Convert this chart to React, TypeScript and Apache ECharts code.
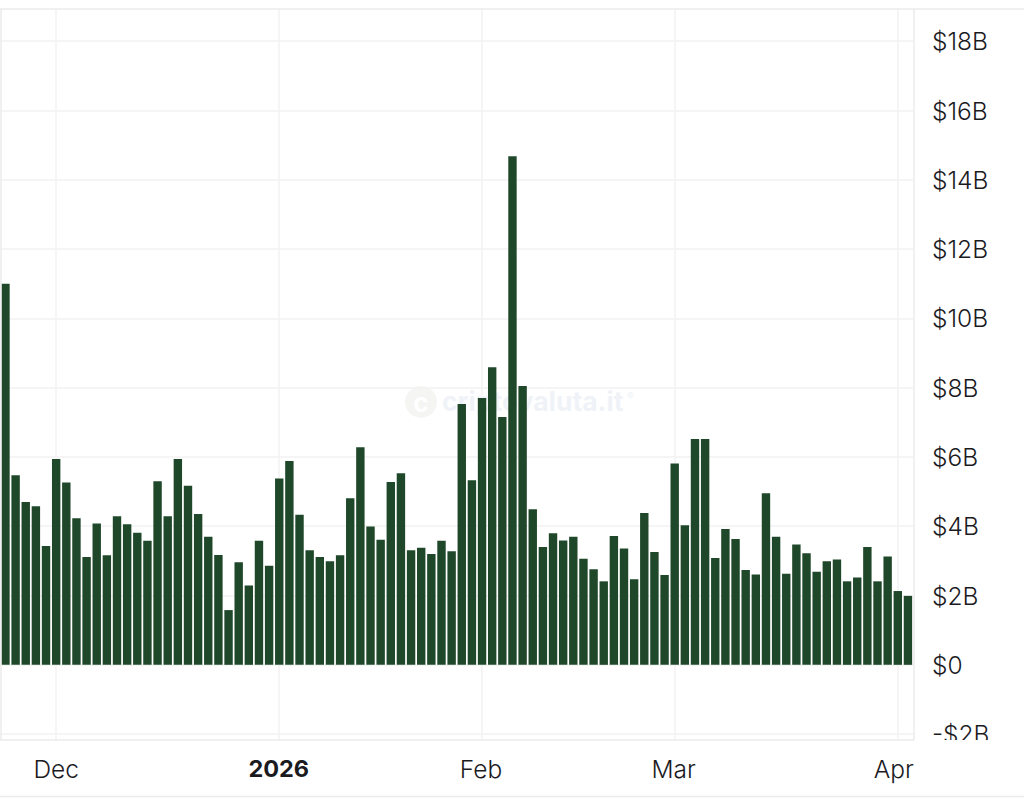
import React, { useEffect, useRef } from "react";
import * as echarts from "echarts";

// trading days only, so the category axis has no weekend gaps
const days = [
  "Nov 21", "Nov 24", "Nov 25", "Nov 26", "Nov 28",
  "Dec 1", "Dec 2", "Dec 3", "Dec 4", "Dec 5", "Dec 8", "Dec 9", "Dec 10", "Dec 11", "Dec 12",
  "Dec 15", "Dec 16", "Dec 17", "Dec 18", "Dec 19", "Dec 22", "Dec 23", "Dec 24", "Dec 26",
  "Dec 29", "Dec 30", "Dec 31",
  "Jan 2", "Jan 5", "Jan 6", "Jan 7", "Jan 8", "Jan 9", "Jan 12", "Jan 13", "Jan 14", "Jan 15",
  "Jan 16", "Jan 20", "Jan 21", "Jan 22", "Jan 23", "Jan 26", "Jan 27", "Jan 28", "Jan 29", "Jan 30",
  "Feb 2", "Feb 3", "Feb 4", "Feb 5", "Feb 6", "Feb 9", "Feb 10", "Feb 11", "Feb 12", "Feb 13",
  "Feb 17", "Feb 18", "Feb 19", "Feb 20", "Feb 23", "Feb 24", "Feb 25", "Feb 26", "Feb 27",
  "Mar 2", "Mar 3", "Mar 4", "Mar 5", "Mar 6", "Mar 9", "Mar 10", "Mar 11", "Mar 12", "Mar 13",
  "Mar 16", "Mar 17", "Mar 18", "Mar 19", "Mar 20", "Mar 23", "Mar 24", "Mar 25", "Mar 26", "Mar 27",
  "Mar 30", "Mar 31",
  "Apr 1", "Apr 2",
];

// volume in $ billions
const volumes = [
  11.0, 5.47, 4.7, 4.58, 3.43,
  5.94, 5.26, 4.23, 3.11, 4.08, 3.16, 4.29, 4.06, 3.81, 3.58,
  5.3, 4.29, 5.94, 5.17, 4.35, 3.7, 3.17, 1.58, 2.96,
  2.29, 3.58, 2.86,
  5.38, 5.88, 4.33, 3.31, 3.11, 2.99, 3.16, 4.81, 6.28, 3.99,
  3.61, 5.28, 5.53, 3.31, 3.38, 3.2, 3.58, 3.28, 7.53, 5.33,
  7.7, 8.59, 7.15, 14.68, 8.05, 4.49, 3.4, 3.8, 3.59, 3.7,
  3.06, 2.76, 2.41, 3.72, 3.36, 2.47, 4.38, 3.26, 2.59,
  5.81, 4.03, 6.52, 6.52, 3.08, 3.92, 3.63, 2.74, 2.61, 4.95,
  3.7, 2.63, 3.47, 3.22, 2.69, 2.99, 3.04, 2.41, 2.52, 3.4,
  2.41, 3.13,
  2.13, 1.99,
];

const monthTicks: Record<string, string> = {
  "Dec 1": "{m|Dec}",
  "Jan 2": "{y|2026}",
  "Feb 2": "{n|Feb}",
  "Mar 2": "{n|Mar}",
  "Apr 1": "{last|Apr}",
};

const priceTicks = [-2, 0, 2, 4, 6, 8, 10, 12, 14, 16, 18];

const FONT = "Inter";
const TEXT = "#1b1b1f";
const GRID_LINE = "#f2f2f3";
const BORDER = "#ebebec";

const App = () => {
  const chartRef = useRef<HTMLDivElement>(null);

  useEffect(() => {
    if (!chartRef.current) return;
    document.body.style.margin = "0";

    const myChart = echarts.init(chartRef.current, undefined, { renderer: "svg" });
    myChart.setOption({
      animation: false,
      backgroundColor: "#ffffff",
      grid: { left: 0.4, right: 111, top: 9, bottom: 62, show: false },
      xAxis: {
        type: "category",
        data: days,
        axisLine: { show: false },
        axisTick: { show: false },
        splitLine: {
          show: true,
          alignWithLabel: true,
          interval: (i: number) => days[i] in monthTicks,
          lineStyle: { color: GRID_LINE, width: 1.5 },
        },
        axisLabel: {
          interval: (i: number) => days[i] in monthTicks,
          formatter: (v: string) => monthTicks[v] || "",
          margin: 16,
          rich: {
            m: { fontFamily: FONT, fontSize: 24.5, fontWeight: 300, color: TEXT },
            n: { fontFamily: FONT, fontSize: 24.5, fontWeight: 300, color: TEXT, padding: [0, 2, 0, 0] },
            y: { fontFamily: FONT, fontSize: 23.5, fontWeight: 700, color: TEXT, padding: [0, 1, 0, 0] },
            last: { fontFamily: FONT, fontSize: 24.5, fontWeight: 300, color: TEXT, padding: [0, 8, 0, 0] },
          },
        },
      },
      yAxis: {
        type: "value",
        position: "right",
        min: -2.17,
        max: 18.93,
        axisLine: { show: false },
        axisTick: { show: false, customValues: priceTicks },
        splitLine: { show: true, lineStyle: { color: GRID_LINE, width: 1.5 } },
        axisLabel: {
          customValues: priceTicks,
          margin: 19,
          fontFamily: FONT,
          fontSize: 24.5,
          fontWeight: 300,
          color: TEXT,
          formatter: (v: number) => (v < 0 ? `-$${-v}B` : v === 0 ? "$0" : `$${v}B`),
        },
      },
      series: [
        {
          type: "bar",
          data: volumes,
          barWidth: 8.4,
          itemStyle: { color: "#1f482a" },
        },
      ],
      graphic: [
        // watermark, sits under the bars
        { type: "circle", z: 0, shape: { cx: 421, cy: 402, r: 16 }, style: { fill: "#f5f6f3" } },
        {
          type: "text",
          z: 0,
          x: 421,
          y: 402,
          style: { text: "c", fontFamily: FONT, fontSize: 26, fontWeight: 700, fill: "#ffffff", align: "center", verticalAlign: "middle" },
        },
        {
          type: "text",
          z: 0,
          x: 442,
          y: 401,
          style: { text: "criptovaluta.it", fontFamily: FONT, fontSize: 26.5, fontWeight: 700, fill: "#eff3f7", verticalAlign: "middle" },
        },
        {
          type: "text",
          z: 0,
          x: 627,
          y: 396,
          style: { text: "®", fontFamily: FONT, fontSize: 10, fill: "#eff3f7", verticalAlign: "middle" },
        },
        // the pane clips the lowest price label
        { type: "rect", z: 50, shape: { x: 914, y: 740, width: 110, height: 56 }, style: { fill: "#ffffff" } },
        // frame of the pane
        { type: "line", z: 60, shape: { x1: 0, y1: 9, x2: 1024, y2: 9 }, style: { stroke: BORDER, lineWidth: 1.5 } },
        { type: "line", z: 60, shape: { x1: 1, y1: 9, x2: 1, y2: 740 }, style: { stroke: BORDER, lineWidth: 1.5 } },
        { type: "line", z: 60, shape: { x1: 914, y1: 9, x2: 914, y2: 740 }, style: { stroke: BORDER, lineWidth: 1.5 } },
        { type: "line", z: 60, shape: { x1: 0, y1: 740, x2: 914, y2: 740 }, style: { stroke: BORDER, lineWidth: 1.5 } },
        { type: "line", z: 60, shape: { x1: 0, y1: 796.5, x2: 1024, y2: 796.5 }, style: { stroke: BORDER, lineWidth: 1.5 } },
      ],
    });

    // Clean up on unmount
    return () => {
      myChart.dispose();
    };
  }, []);

  return <div ref={chartRef} style={{ width: "1024px", height: "802px" }}></div>;
};

export default App;
